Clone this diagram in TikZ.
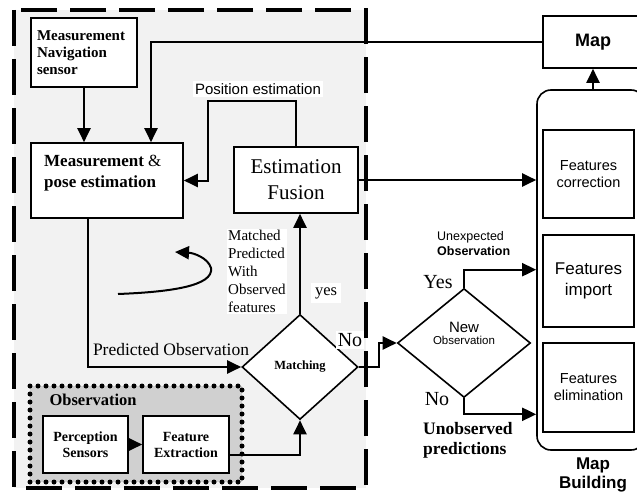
\documentclass[tikz,border=0pt]{standalone}
\usepackage{fontspec}
\setmainfont{Liberation Serif}
\setsansfont{Liberation Sans}
\usetikzlibrary{arrows.meta,shapes.geometric}
\newcommand\setfs[2]{\fontsize{#1}{#2}\selectfont}
\definecolor{regiongray}{HTML}{F2F2F2}
\definecolor{obsgray}{HTML}{D0D0D0}
\begin{document}
\begin{tikzpicture}[x=1pt,y=-1pt,
  box/.style={draw,line width=1.6pt,fill=white,inner sep=0pt},
  conn/.style={line width=2pt,-{Triangle[length=14pt,width=13pt]}},
  plain/.style={line width=2pt},
  whitelbl/.style={fill=white,inner sep=2pt},
  decision/.style={diamond,draw,line width=1.6pt,fill=white,inner sep=0pt}]
\useasboundingbox (0,0) rectangle (637,495);
\clip (0,0) rectangle (637,495);

% localisation block background
\fill[regiongray] (14,10) rectangle (366,488);

% observation group
\draw[line width=5pt,dash pattern=on 0pt off 8pt,line cap=round,fill=obsgray]
  (30,386) rectangle (242,482);
\node[anchor=west,font=\bfseries\setfs{16.5}{18}] (obstitle) at (46,400) {Observation};

% boxes of the localisation block
\node[box,minimum width=106pt,minimum height=69pt,text width=94pt,align=left,
      font=\bfseries\setfs{15}{17}] (nav) at (84,52.5) {Measurement\\Navigation\\sensor};
\node[box,minimum width=152pt,minimum height=75pt] (pose) at (107,180.5) {};
\node[anchor=west,align=left,inner sep=0pt,font=\bfseries\setfs{17}{21}] (posetext) at (44,173)
  {Measurement {\mdseries\&}\\pose estimation};
\node[box,minimum width=124pt,minimum height=66pt,align=center,
      font=\setfs{21}{26}] (fusion) at (296,180) {Estimation\\Fusion};
\node[box,minimum width=85pt,minimum height=57pt,align=center,
      font=\bfseries\setfs{14}{16}] (perc) at (85.5,444.5) {Perception\\Sensors};
\node[box,minimum width=86pt,minimum height=57pt,align=center,
      font=\bfseries\setfs{14}{16}] (fe) at (186,444.5) {Feature\\Extraction};
\node[decision,minimum width=116pt,minimum height=105pt,
      font=\bfseries\setfs{12.5}{14}] (match) at (300,367) {Matching};

% map building side
\node[box,minimum width=100pt,minimum height=52pt,font=\sffamily\bfseries\setfs{18}{20}] (map) at (593,42) {Map};
\node[draw,line width=1.6pt,rounded corners=14pt,minimum width=108pt,minimum height=360pt] (mb) at (591,270) {};
\node[box,minimum width=91pt,minimum height=88pt,align=center,font=\sffamily\setfs{14.5}{17}] (corr) at (588.5,174) {Features\\correction};
\node[box,minimum width=91pt,minimum height=92pt,align=center,font=\sffamily\setfs{17}{21}] (imp) at (588.5,281) {Features\\import};
\node[box,minimum width=91pt,minimum height=89pt,align=center,font=\sffamily\setfs{14.5}{17}] (elim) at (588.5,387.5) {Features\\elimination};
\node[align=center,font=\sffamily\bfseries\setfs{17}{19}] (mbtitle) at (593,475) {Map\\Building};

% new observation decision
\node[decision,minimum width=133pt,minimum height=109pt] (newobs) at (464,343) {};
\node[align=center,inner sep=0pt,font=\sffamily] (newobstext) at (464,333)
  {{\setfs{15}{16}New}\\{\setfs{11.5}{14}Observation}};

% labels
\node[whitelbl,font=\sffamily\setfs{15}{17}] (posest) at (258,89) {Position estimation};
\node[whitelbl,anchor=north west,align=left,inner sep=1pt,font=\setfs{15}{18}] (mtext) at (227,229)
  {Matched\\Predicted\\With\\Observed\\features};
\node[whitelbl,inner sep=4pt,font=\setfs{16.5}{18}] (yeslbl) at (326,293) {yes};
\node[whitelbl,font=\setfs{20}{22}] (nolbl) at (350,340) {No};
\node[font=\setfs{17.5}{19}] (predlbl) at (171,350) {Predicted Observation};
\node[anchor=west,align=left,inner sep=0pt,font=\sffamily\setfs{12.5}{15}] (unexp) at (437,244)
  {Unexpected\\\textbf{Observation}};
\node[font=\setfs{20}{22}] (yesnew) at (438,282) {Yes};
\node[font=\setfs{20}{22}] (nonew) at (437,399) {No};
\node[anchor=west,align=left,inner sep=0pt,font=\bfseries\setfs{17.5}{20}] (unobs) at (423,440)
  {Unobserved\\predictions};

% connectors
\coordinate (mapin) at ([xshift=44pt]pose.north);
\coordinate (pe1) at (208,101);
\coordinate (poseout) at ([xshift=-19pt]pose.south);
\coordinate (feout) at ([yshift=-10.5pt]fe.east);
\coordinate (yesbend) at ([yshift=18pt]newobs.north);
\coordinate (nobend) at ([yshift=-16pt]newobs.south);

\draw[conn] (nav.south) -- (nav.south |- pose.north);
\draw[conn] (map.west) -| (mapin);
\draw[conn] (fusion.north) |- (pe1) |- (pose.east);
\draw[conn] (fusion.east) -- (fusion.east -| mb.west);
\draw[conn] (poseout) |- (match.west);
\draw[conn] (match.north) -- (match.north |- fusion.south);
\draw[conn] (perc.east) -- (fe.west);
\draw[conn] (feout) -| (match.south);
\draw[conn] (match.east) -- ++(20,0) |- (newobs.west);
\draw[conn] (newobs.north) -- (yesbend) -- (yesbend -| mb.west);
\draw[conn] (newobs.south) -- (nobend) -- (nobend -| mb.west);
\draw[conn] (mb.north -| map.south) -- (map.south);

% loop arrow inside the localisation block
\coordinate (loopa) at (118,294);
\coordinate (loopb) at (211,268);
\coordinate (loopc) at (175,252);
\draw[conn] (loopa) .. controls (170,292) and (214,286) .. (loopb)
  .. controls (208,258) and (194,253) .. (loopc);

% localisation block border
\draw[line width=4.5pt,dash pattern=on 36pt off 13pt] (14,10) rectangle (366,488);
\end{tikzpicture}
\end{document}
